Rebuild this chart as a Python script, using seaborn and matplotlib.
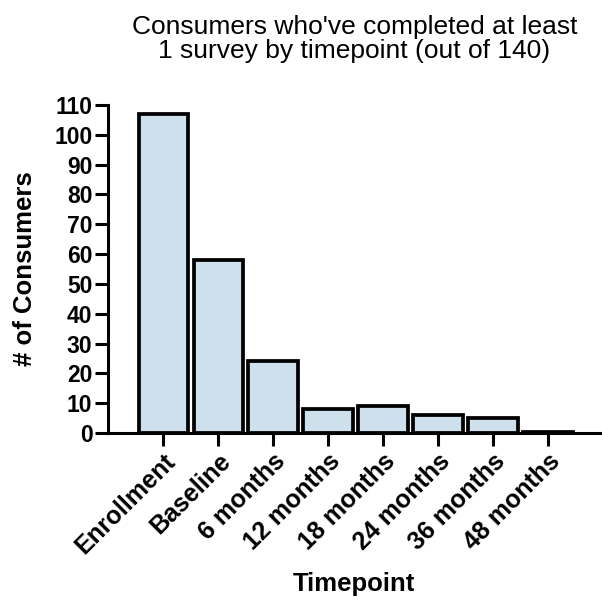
import matplotlib
matplotlib.use("Agg")
import matplotlib.pyplot as plt
import seaborn as sns

timepoints = ["Enrollment", "Baseline", "6 months", "12 months",
              "18 months", "24 months", "36 months", "48 months"]
consumers = [107, 58, 24, 8, 9, 6, 5, 0.5]
y_ticks = list(range(0, 111, 10))

sns.set_theme(style="ticks")
plt.rcParams["font.family"] = ["Liberation Sans", "DejaVu Sans"]
plt.rcParams.update({"text.color": "black", "axes.labelcolor": "black",
                     "xtick.color": "black", "ytick.color": "black"})

fig = plt.figure(figsize=(6.02, 6.02), dpi=100)
ax = fig.add_axes([0.18, 0.2807, 0.817, 0.545])

sns.barplot(x=timepoints, y=consumers, color="#cde0eb", saturation=1,
            edgecolor="black", linewidth=2.7, width=0.9, ax=ax)

ax.set_xlim(-1, 7.95)
ax.set_ylim(0, 110)
ax.set_yticks(y_ticks)
sns.despine(ax=ax)
for s in ["left", "bottom"]:
    ax.spines[s].set_linewidth(2.2)
    ax.spines[s].set_color("black")

ax.tick_params(axis="both", width=2.2, length=9.5, color="black", pad=2)
ax.tick_params(axis="y", labelsize=16.5)
ax.tick_params(axis="x", labelsize=18)
for lab in ax.get_yticklabels():
    lab.set_fontweight("bold")
ax.set_xticks(range(len(timepoints)))
ax.set_xticklabels(timepoints, rotation=45, ha="right",
                   rotation_mode="anchor", fontweight="bold")

ax.set_xlabel("Timepoint", fontsize=18.5, fontweight="bold", labelpad=10)
ax.set_ylabel("# of Consumers", fontsize=18.5, fontweight="bold", labelpad=12)
ax.set_title("Consumers who've completed at least\n1 survey by timepoint (out of 140)",
             fontsize=19, pad=34, linespacing=1.0)

fig.savefig("out.png", dpi=100)
